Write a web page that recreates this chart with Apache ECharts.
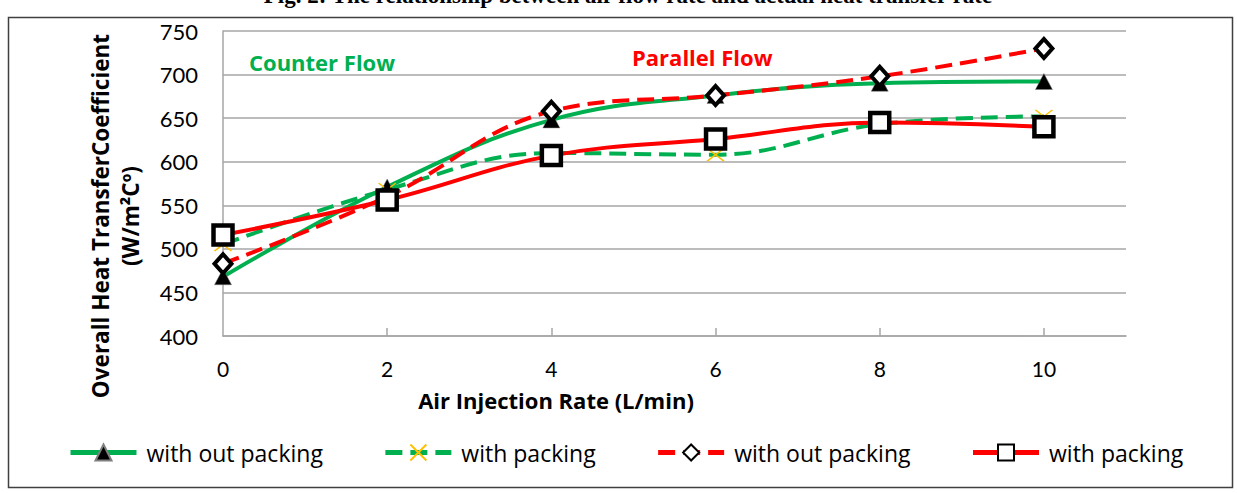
<!DOCTYPE html>
<html>
<head>
<meta charset="utf-8">
<script src="https://cdn.jsdelivr.net/npm/echarts@6/dist/echarts.min.js"></script>
<style>html,body{margin:0;padding:0;background:#fff;}#c{width:1237px;height:493px;}</style>
</head>
<body>
<div id="c"></div>
<script>
// Data
const airRate = [0, 2, 4, 6, 8, 10];
const counterWithoutPacking = [468, 571, 648, 676, 690, 692];
const counterWithPacking = [505, 568, 610, 608, 643, 652];
const parallelWithoutPacking = [483, 560, 658, 676, 698, 730];
const parallelWithPacking = [516, 556, 607, 626, 645, 640];
const xTicks = [0, 2, 4, 6, 8, 10];
const legendNames = ['with out packing', 'with packing', 'with out packing', 'with packing'];

function pairs(ys) { return airRate.map((x, i) => [x, ys[i]]); }

const FONT = 'Lato, "Open Sans", sans-serif';
const BFONT = '"Open Sans", Lato, sans-serif';
const GREEN = '#00B050', RED = '#FF0000';
const X_PATH = 'path://M0,0L10,10M10,0L0,10';

const chart = echarts.init(document.getElementById('c'), null, {renderer: 'svg'});
const ids = ['cf_wo', 'cf_w', 'pf_wo', 'pf_w'];
chart.setOption({
  animation: false,
  grid: {left: 223, right: 111, top: 31, bottom: 157},
  xAxis: {
    type: 'value', min: 0, max: 11, interval: 2,
    axisLine: {lineStyle: {color: '#A6A6A6', width: 1.5}},
    axisTick: {show: true, inside: true, length: 8, lineStyle: {color: '#A6A6A6', width: 1.5}, customValues: [2, 4, 6, 8, 10]},
    axisLabel: {customValues: xTicks, margin: 22, fontSize: 21, color: '#000', fontFamily: FONT},
    splitLine: {show: false}
  },
  yAxis: {
    type: 'value', min: 400, max: 750, interval: 50,
    axisLine: {show: true, lineStyle: {color: '#A6A6A6', width: 1.5}},
    axisTick: {show: false},
    axisLabel: {margin: 25, fontSize: 22, color: '#000', fontFamily: FONT},
    splitLine: {lineStyle: {color: '#A6A6A6', width: 1.5}}
  },
  legend: {
    left: 68, top: 441, padding: 0, itemWidth: 66, itemHeight: 20, itemGap: 60,
    textStyle: {fontSize: 23, color: '#000', fontFamily: BFONT, padding: [0, 0, 0, 5]},
    lineStyle: {width: 5},
    formatter: function (n) { return legendNames[ids.indexOf(n)]; },
    data: ids
  },
  series: [
    {name: 'cf_wo', type: 'line', data: pairs(counterWithoutPacking), smooth: 0.4,
     symbol: 'triangle', symbolSize: [17, 16],
     lineStyle: {color: GREEN, width: 4},
     itemStyle: {color: '#000', borderColor: '#7f7f7f', borderWidth: 0.5}},
    {name: 'cf_w', type: 'line', data: pairs(counterWithPacking), smooth: 0.4,
     symbol: X_PATH, symbolSize: [17, 13],
     lineStyle: {color: GREEN, width: 4, type: [17, 8]},
     itemStyle: {color: 'none', borderColor: '#FFC000', borderWidth: 1.5}},
    {name: 'pf_wo', type: 'line', data: pairs(parallelWithoutPacking), smooth: 0.4,
     symbol: 'diamond', symbolSize: [17, 19],
     lineStyle: {color: RED, width: 4, type: [17, 8]},
     itemStyle: {color: '#fff', borderColor: '#000', borderWidth: 4}},
    {name: 'pf_w', type: 'line', data: pairs(parallelWithPacking), smooth: 0.4,
     symbol: 'rect', symbolSize: [19, 19],
     lineStyle: {color: RED, width: 4},
     itemStyle: {color: '#fff', borderColor: '#000', borderWidth: 4.5}}
  ],
  graphic: [
    {type: 'rect', shape: {x: 8.5, y: 17.5, width: 1224, height: 470}, style: {fill: 'none', stroke: '#404040', lineWidth: 1.5}, silent: true, z: -1},
    {type: 'text', x: 628, y: 7, style: {text: 'Fig. 2: The relationship between air flow rate and actual heat transfer rate', font: 'bold 23px "Liberation Serif", serif', fill: '#000', textAlign: 'center', textVerticalAlign: 'bottom'}},
    {type: 'text', x: 249, y: 62, style: {text: 'Counter Flow', font: 'bold 22px ' + BFONT, fill: GREEN, textAlign: 'left', textVerticalAlign: 'middle'}},
    {type: 'text', x: 632, y: 57, style: {text: 'Parallel Flow', font: 'bold 22px ' + BFONT, fill: RED, textAlign: 'left', textVerticalAlign: 'middle'}},
    {type: 'text', x: 556, y: 400, style: {text: 'Air Injection Rate (L/min)', font: 'bold 22px ' + BFONT, fill: '#000', textAlign: 'center', textVerticalAlign: 'middle'}},
    {type: 'text', x: 115, y: 216, rotation: Math.PI / 2, style: {text: 'Overall Heat TransferCoefficient\n(W/m²Cº)', font: 'bold 22.5px ' + BFONT, lineHeight: 30, fill: '#000', textAlign: 'center', textVerticalAlign: 'middle'}}
  ]
});
</script>
</body>
</html>
